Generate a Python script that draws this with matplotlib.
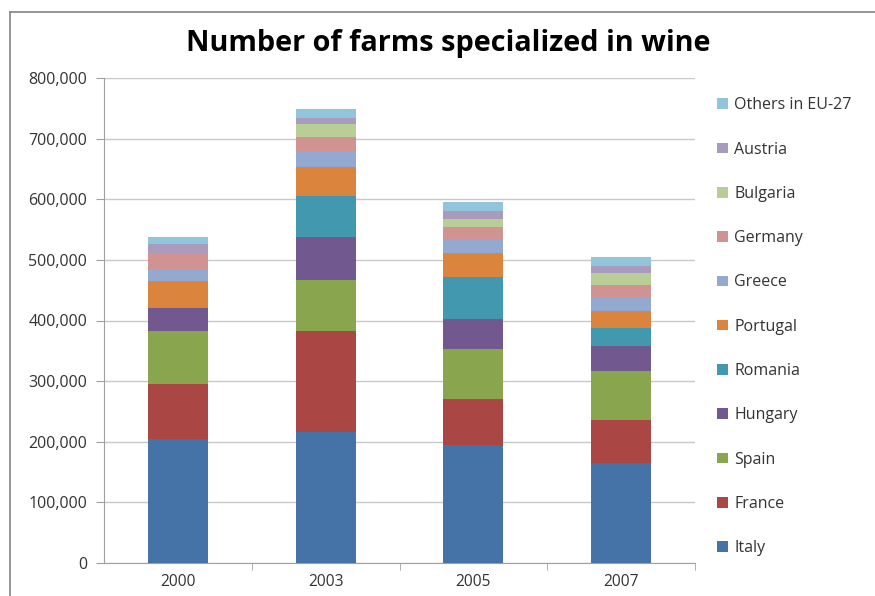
import matplotlib
matplotlib.use("Agg")
import matplotlib.pyplot as plt
from matplotlib.lines import Line2D
from matplotlib.patches import Patch
from matplotlib.ticker import FuncFormatter, FixedLocator

plt.rcParams["font.family"] = ["Open Sans", "DejaVu Sans"]

# =========================
# DATA (farms per country, stacked bottom -> top)
# =========================
years = ["2000", "2003", "2005", "2007"]

italy = [204000, 216000, 194000, 164500]
france = [92000, 167000, 76500, 71500]
spain = [87000, 84000, 82000, 80500]
hungary = [37000, 71000, 50500, 42000]
romania = [0, 68000, 68000, 28500]
portugal = [45000, 47000, 40000, 28500]
greece = [20000, 26000, 23000, 23500]
germany = [27000, 23000, 21000, 19500]
bulgaria = [0, 22500, 13000, 19500]
austria = [14000, 9500, 13000, 12500]
others = [11000, 14500, 14500, 13500]

countries = ["Italy", "France", "Spain", "Hungary", "Romania", "Portugal",
             "Greece", "Germany", "Bulgaria", "Austria", "Others in EU-27"]
series = [italy, france, spain, hungary, romania, portugal,
          greece, germany, bulgaria, austria, others]
colors = ["#4572A7", "#AA4643", "#89A54E", "#71588F", "#4198AF", "#DB843D",
          "#93A9CF", "#D19392", "#B9CD96", "#A99BBD", "#92C5DB"]

# =========================
# FIGURE
# =========================
W, H = 875, 596
fig = plt.figure(figsize=(W / 100, H / 100), dpi=100)

# chart frame (left and top edges)
fig.add_artist(Line2D([10 / W, 10 / W], [0, 1 - 12 / H], color="#8c8c8c", lw=1.3))
fig.add_artist(Line2D([10 / W, 1], [1 - 12 / H, 1 - 12 / H], color="#8c8c8c", lw=1.3))

ax = fig.add_axes([104 / W, (H - 563) / H, (695 - 104) / W, (563 - 78) / H])

x = list(range(len(years)))
bottom = [0] * len(years)
for name, vals, col in zip(countries, series, colors):
    ax.bar(x, vals, width=0.405, bottom=bottom, color=col, label=name, zorder=3)
    bottom = [b + v for b, v in zip(bottom, vals)]

ax.set_xlim(-0.5, 3.5)
ax.set_ylim(0, 800000)
ax.set_yticks(range(0, 800001, 100000))
ax.yaxis.set_major_formatter(FuncFormatter(lambda v, p: f"{int(v):,}"))
ax.grid(axis="y", color="#c8c8c8", lw=1, zorder=0)

ax.set_xticks(x)
ax.set_xticklabels(years)
ax.xaxis.set_minor_locator(FixedLocator([0.5, 1.5, 2.5, 3.5]))
ax.tick_params(axis="x", which="major", length=0, pad=8, labelsize=11.2, colors="#333333")
ax.tick_params(axis="x", which="minor", length=5, direction="out", color="#a0a0a0")
ax.tick_params(axis="y", length=6, color="#a0a0a0", labelsize=11.5, colors="#333333", pad=6)

for s in ["top", "right"]:
    ax.spines[s].set_visible(False)
for s in ["left", "bottom"]:
    ax.spines[s].set_color("#a0a0a0")

fig.text(448 / W, 1 - 43 / H, "Number of farms specialized in wine",
         ha="center", va="center", fontsize=20.8, fontweight="bold")

# legend, top entry first
handles = [Patch(facecolor=c, edgecolor="none") for c in colors][::-1]
fig.legend(handles, countries[::-1], loc="upper left",
           bbox_to_anchor=(703 / W, 1 - 83 / H), frameon=False,
           fontsize=11.5, labelspacing=1.77, handlelength=0.65, handleheight=0.65,
           handletextpad=0.4, labelcolor="#333333")

fig.savefig("out.png", dpi=100)
